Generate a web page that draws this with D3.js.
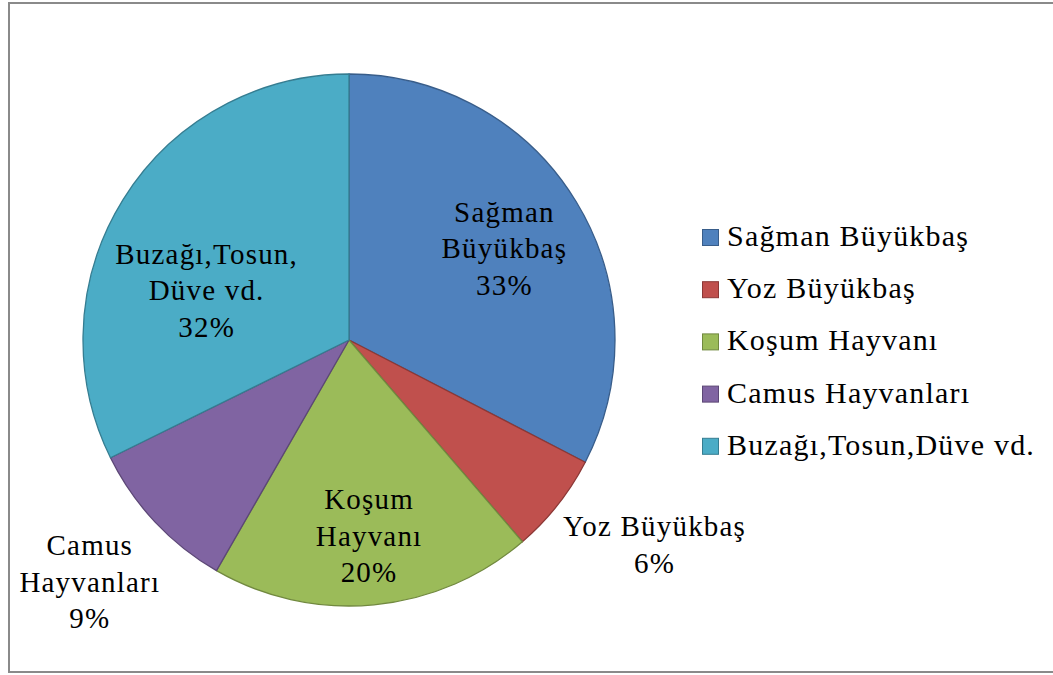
<!DOCTYPE html>
<html>
<head>
<meta charset="utf-8">
<script src="https://cdn.jsdelivr.net/npm/d3@7"></script>
<style>
  body { margin: 0; background: #fff; }
</style>
</head>
<body>
<div id="chart"></div>
<script>
// data
const categories = ["Sağman Büyükbaş", "Yoz Büyükbaş", "Koşum Hayvanı", "Camus Hayvanları", "Buzağı,Tosun,Düve vd."];
const shares = [32.6, 6.1, 19.6, 9.4, 32.3];
const labelLines = [["Sağman", "Büyükbaş"], ["Yoz Büyükbaş"], ["Koşum", "Hayvanı"], ["Camus", "Hayvanları"], ["Buzağı,Tosun,", "Düve vd."]];
const fills = ["#4F81BD", "#C0504D", "#9BBB59", "#8064A2", "#4BACC6"];
const strokes = ["#385D8A", "#8C3836", "#71893F", "#5C4776", "#357D91"];

const FONT = '"Liberation Serif", "DejaVu Serif", "Times New Roman", Times, serif';
const width = 1053, height = 675;
const cx = 349, cy = 340, radius = 266;

const svg = d3.select("#chart").append("svg")
  .attr("width", width)
  .attr("height", height);

// outer frame
svg.append("rect")
  .attr("x", 9).attr("y", 3)
  .attr("width", width + 10).attr("height", 669)
  .attr("fill", "none")
  .attr("stroke", "#8a8a8a")
  .attr("stroke-width", 2);

const pie = d3.pie().sort(null).value(d => d);
const arcs = pie(shares);
const arc = d3.arc().innerRadius(0).outerRadius(radius);

const g = svg.append("g").attr("transform", `translate(${cx},${cy})`);

g.selectAll("path.slice")
  .data(arcs)
  .join("path")
  .attr("class", "slice")
  .attr("d", arc)
  .attr("fill", (d, i) => fills[i])
  .attr("stroke", (d, i) => strokes[i])
  .attr("stroke-width", 1.3)
  .attr("stroke-linejoin", "round");

// label placement: radius factor and angle nudge (degrees) per slice
const labelRadius = [0.658, 1.402, 0.777, 1.36, 0.558];
const labelTurn = [3.5, -3.2, 0, -0.9, -16.3];
const lineH = 36.5;
const spacing = 1.2;

arcs.forEach((d, i) => {
  const a = (d.startAngle + d.endAngle) / 2 + labelTurn[i] * Math.PI / 180;
  const r = radius * labelRadius[i];
  const x = Math.sin(a) * r + spacing / 2;
  const y = -Math.cos(a) * r;
  const lines = labelLines[i].concat([Math.round(shares[i]) + "%"]);
  const t = g.append("text")
    .attr("text-anchor", "middle")
    .attr("font-family", FONT)
    .attr("font-size", 29)
    .attr("letter-spacing", spacing)
    .attr("fill", "#000");
  lines.forEach((s, k) => {
    t.append("tspan")
      .attr("x", x)
      .attr("y", y + (k - (lines.length - 1) / 2) * lineH)
      .text(s);
  });
});

// legend
const legend = svg.append("g").attr("transform", "translate(702,246)");
const rowH = 52.2;
categories.forEach((c, i) => {
  const row = legend.append("g").attr("transform", `translate(0,${i * rowH})`);
  row.append("rect")
    .attr("x", 0.5).attr("y", -16.5)
    .attr("width", 16).attr("height", 16)
    .attr("fill", fills[i])
    .attr("stroke", strokes[i])
    .attr("stroke-width", 1);
  row.append("text")
    .attr("x", 25).attr("y", 0)
    .attr("font-family", FONT)
    .attr("font-size", 30)
    .attr("letter-spacing", spacing)
    .attr("fill", "#000")
    .text(c);
});
</script>
</body>
</html>
